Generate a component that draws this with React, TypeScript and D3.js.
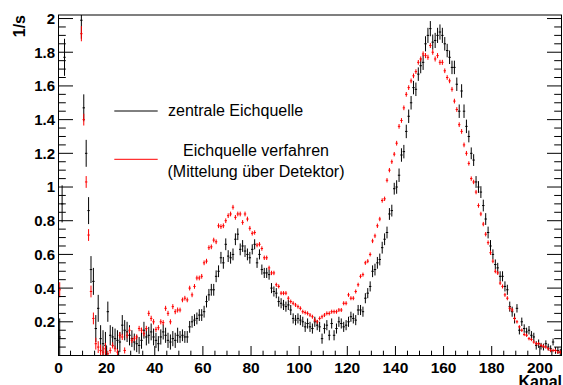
import React from 'react';
import * as d3 from 'd3';

// Count rate (1/s) per channel (bin i spans [i, i+1])
const blackRate = [
  0.11, 0.90, 1.77, 2.6, 3.2, 3.5, 3.4, 3.0, 2.5, 1.99,
  1.47, 1.20, 0.86, 0.51, 0.44, 0.16, 0.28, 0.10, 0.07, 0.06,
  0.26, 0.12, 0.11, 0.10, 0.09, 0.08, 0.18, 0.15, 0.14, 0.12,
  0.10, 0.08, 0.07, 0.06, 0.09, 0.15, 0.11, 0.12, 0.14, 0.11,
  0.09, 0.07, 0.11, 0.14, 0.12, 0.09, 0.08, 0.10, 0.09, 0.12,
  0.11, 0.12, 0.11, 0.11, 0.17, 0.20, 0.21, 0.22, 0.24, 0.24,
  0.26, 0.32, 0.36, 0.39, 0.39, 0.47, 0.50, 0.58, 0.55, 0.66,
  0.59, 0.58, 0.60, 0.69, 0.72, 0.63, 0.65, 0.62, 0.60, 0.58,
  0.63, 0.66, 0.55, 0.60, 0.51, 0.49, 0.49, 0.48, 0.40, 0.38,
  0.37, 0.32, 0.31, 0.30, 0.29, 0.30, 0.27, 0.22, 0.21, 0.22,
  0.21, 0.20, 0.17, 0.19, 0.17, 0.16, 0.20, 0.18, 0.17, 0.10,
  0.16, 0.18, 0.12, 0.19, 0.12, 0.16, 0.20, 0.19, 0.17, 0.18,
  0.20, 0.23, 0.22, 0.21, 0.27, 0.27, 0.26, 0.34, 0.37, 0.41,
  0.50, 0.51, 0.55, 0.57, 0.64, 0.69, 0.73, 0.84, 0.86, 0.99,
  1.00, 1.07, 1.19, 1.21, 1.33, 1.42, 1.50, 1.59, 1.58, 1.67,
  1.72, 1.74, 1.85, 1.90, 1.94, 1.86, 1.87, 1.90, 1.92, 1.90,
  1.85, 1.81, 1.77, 1.71, 1.71, 1.61, 1.45, 1.57, 1.45, 1.36,
  1.30, 1.20, 1.16, 1.03, 1.00, 0.97, 0.89, 0.81, 0.73, 0.65,
  0.60, 0.54, 0.52, 0.47, 0.47, 0.41, 0.39, 0.29, 0.26, 0.22,
  0.28, 0.15, 0.20, 0.16, 0.14, 0.15, 0.12, 0.11, 0.06, 0.07,
  0.055, 0.05, 0.07, 0.05, 0.04, 0.08, 0.03, 0.03, 0.02,
];

const redRate = [
  0.39, 2.4, 3.0, 3.4, 3.6, 3.5, 3.2, 2.8, 2.3, 1.91,
  1.40, 1.03, 0.715, 0.38, 0.22, 0.07, 0.05, 0.03, 0.02, 0.04,
  0.01, 0.03, 0.06, 0.04, 0.02, 0.12, 0.11, 0.03, 0.12, 0.15,
  0.09, 0.10, 0.11, 0.16, 0.15, 0.13, 0.16, 0.25, 0.22, 0.20,
  0.155, 0.165, 0.20, 0.195, 0.28, 0.25, 0.20, 0.29, 0.26, 0.27,
  0.27, 0.33, 0.34, 0.33, 0.40, 0.36, 0.41, 0.46, 0.46, 0.47,
  0.55, 0.56, 0.64, 0.645, 0.685, 0.675, 0.77, 0.765, 0.77, 0.80,
  0.83, 0.84, 0.88, 0.82, 0.84, 0.84, 0.79, 0.84, 0.81, 0.755,
  0.725, 0.73, 0.655, 0.66, 0.635, 0.58, 0.58, 0.52, 0.49, 0.49,
  0.42, 0.41, 0.37, 0.37, 0.37, 0.34, 0.32, 0.31, 0.30, 0.29,
  0.28, 0.26, 0.255, 0.25, 0.24, 0.23, 0.21, 0.20, 0.22, 0.23,
  0.24, 0.25, 0.25, 0.26, 0.26, 0.26, 0.27, 0.27, 0.31, 0.31,
  0.36, 0.34, 0.34, 0.38, 0.42, 0.47, 0.48, 0.55, 0.56, 0.60,
  0.68, 0.71, 0.77, 0.81, 0.92, 0.93, 1.04, 1.10, 1.15, 1.195,
  1.26, 1.36, 1.395, 1.47, 1.55, 1.59, 1.63, 1.66, 1.685, 1.74,
  1.76, 1.79, 1.78, 1.77, 1.84, 1.80, 1.76, 1.78, 1.74, 1.74,
  1.69, 1.65, 1.63, 1.58, 1.51, 1.46, 1.37, 1.33, 1.25, 1.20,
  1.14, 1.05, 1.03, 0.97, 0.89, 0.84, 0.78, 0.72, 0.67, 0.61,
  0.56, 0.50, 0.49, 0.43, 0.41, 0.36, 0.34, 0.28, 0.27, 0.22,
  0.20, 0.17, 0.15, 0.125, 0.12, 0.10, 0.095, 0.08, 0.07, 0.07,
  0.06, 0.055, 0.05, 0.04, 0.03, 0.03, 0.03, 0.02, 0.02,
];

// Half-length of the error bars, one value per block of 10 channels
const blackErr = [0.11, 0.08, 0.06, 0.05, 0.045, 0.035, 0.035, 0.035, 0.03, 0.03,
  0.03, 0.03, 0.03, 0.035, 0.04, 0.045, 0.04, 0.035, 0.03, 0.025, 0.02];
const redErr = [0.045, 0.035, 0.018, 0.016, 0.015, 0.014, 0.014, 0.014, 0.013, 0.012,
  0.012, 0.012, 0.012, 0.013, 0.014, 0.015, 0.014, 0.013, 0.012, 0.01, 0.01];

const xTickValues = [0, 20, 40, 60, 80, 100, 120, 140, 160, 180, 200];
const yTickValues = [0.2, 0.4, 0.6, 0.8, 1, 1.2, 1.4, 1.6, 1.8, 2];
const yTickLabels = ['0.2', '0.4', '0.6', '0.8', '1', '1.2', '1.4', '1.6', '1.8', '2'];

const legendBlack = 'zentrale Eichquelle';
const legendRed1 = 'Eichquelle verfahren';
const legendRed2 = '(Mittelung über Detektor)';

const FONT = '"Liberation Sans", Arial, Helvetica, sans-serif';

export default function App() {
  const W = 563;
  const H = 385;
  const left = 58.5, right = 561.5, top = 15, bottom = 355.5;
  const x = d3.scaleLinear().domain([0, 209]).range([left, right]);
  const y = d3.scaleLinear().domain([0, 2.021]).range([bottom, top]);

  const xMinor = d3.range(0, 210, 5).filter((v) => v % 20 !== 0);
  const yMinor = d3.range(0, 41).map((k) => k * 0.05).filter((v) => Math.abs(v * 5 - Math.round(v * 5)) > 1e-6);

  const bars = (data: number[], err: number[], color: string, key: string) =>
    data.map((v, i) => {
      const e = err[Math.floor(i / 10)];
      const cx = x(i + 0.5);
      const cy = y(v);
      return (
        <g key={key + i}>
          <line x1={cx} x2={cx} y1={y(v - e)} y2={y(v + e)} stroke={color} strokeWidth={1} />
          <line x1={x(i)} x2={x(i + 1)} y1={cy} y2={cy} stroke={color} strokeWidth={1} />
        </g>
      );
    });

  return (
    <svg width={W} height={H} style={{ position: 'absolute', left: 0, top: 0, background: '#fff' }}>
      <defs>
        <clipPath id="plotclip">
          <rect x={left} y={top} width={right - left} height={bottom - top} />
        </clipPath>
      </defs>
      <rect x={0} y={0} width={W} height={H} fill="#fff" />

      <g clipPath="url(#plotclip)">
        {bars(blackRate, blackErr, '#000', 'b')}
        {bars(redRate, redErr, '#ff0000', 'r')}
      </g>

      {/* frame */}
      <rect x={left} y={top} width={right - left} height={bottom - top} fill="none" stroke="#000" strokeWidth={1} />

      {/* x axis ticks */}
      {xTickValues.map((v) => (
        <line key={'xt' + v} x1={x(v)} x2={x(v)} y1={bottom} y2={bottom - 9.5} stroke="#000" />
      ))}
      {xMinor.map((v) => (
        <line key={'xm' + v} x1={x(v)} x2={x(v)} y1={bottom} y2={bottom - 4.8} stroke="#000" />
      ))}
      {xTickValues.map((v) => (
        <text key={'xl' + v} x={x(v)} y={372.5} textAnchor="middle" fontFamily={FONT} fontWeight="bold" fontSize={15.5} fill="#000">
          {String(v)}
        </text>
      ))}

      {/* y axis ticks, left and right */}
      {yTickValues.map((v) => (
        <g key={'yt' + v}>
          <line x1={left} x2={left + 14.5} y1={y(v)} y2={y(v)} stroke="#000" />
          <line x1={right} x2={right - 14.5} y1={y(v)} y2={y(v)} stroke="#000" />
        </g>
      ))}
      {yMinor.map((v) => (
        <g key={'ym' + v}>
          <line x1={left} x2={left + 7.3} y1={y(v)} y2={y(v)} stroke="#000" />
          <line x1={right} x2={right - 7.3} y1={y(v)} y2={y(v)} stroke="#000" />
        </g>
      ))}
      {yTickValues.map((v, i) => (
        <text key={'yl' + v} x={55} y={y(v)} dy="0.36em" textAnchor="end" fontFamily={FONT} fontWeight="bold" fontSize={15} fill="#000">
          {yTickLabels[i]}
        </text>
      ))}

      {/* axis titles */}
      <text transform="translate(25,15) rotate(-90)" textAnchor="end" fontFamily={FONT} fontWeight="bold" fontSize={16} fill="#000">
        1/s
      </text>
      <text x={562} y={386.5} textAnchor="end" fontFamily={FONT} fontWeight="bold" fontSize={16} fill="#000">
        Kanal
      </text>

      {/* legend */}
      <line x1={114.3} x2={157.7} y1={111} y2={111} stroke="#000" strokeWidth={1} />
      <text x={168} y={116} fontFamily={FONT} fontSize={16} fill="#000">{legendBlack}</text>
      <line x1={114.3} x2={157.7} y1={159.3} y2={159.3} stroke="#ff0000" strokeWidth={1} />
      <text x={256} y={155.7} textAnchor="middle" fontFamily={FONT} fontSize={16} fill="#000">{legendRed1}</text>
      <text x={256} y={177.2} textAnchor="middle" fontFamily={FONT} fontSize={16} fill="#000">{legendRed2}</text>
    </svg>
  );
}
